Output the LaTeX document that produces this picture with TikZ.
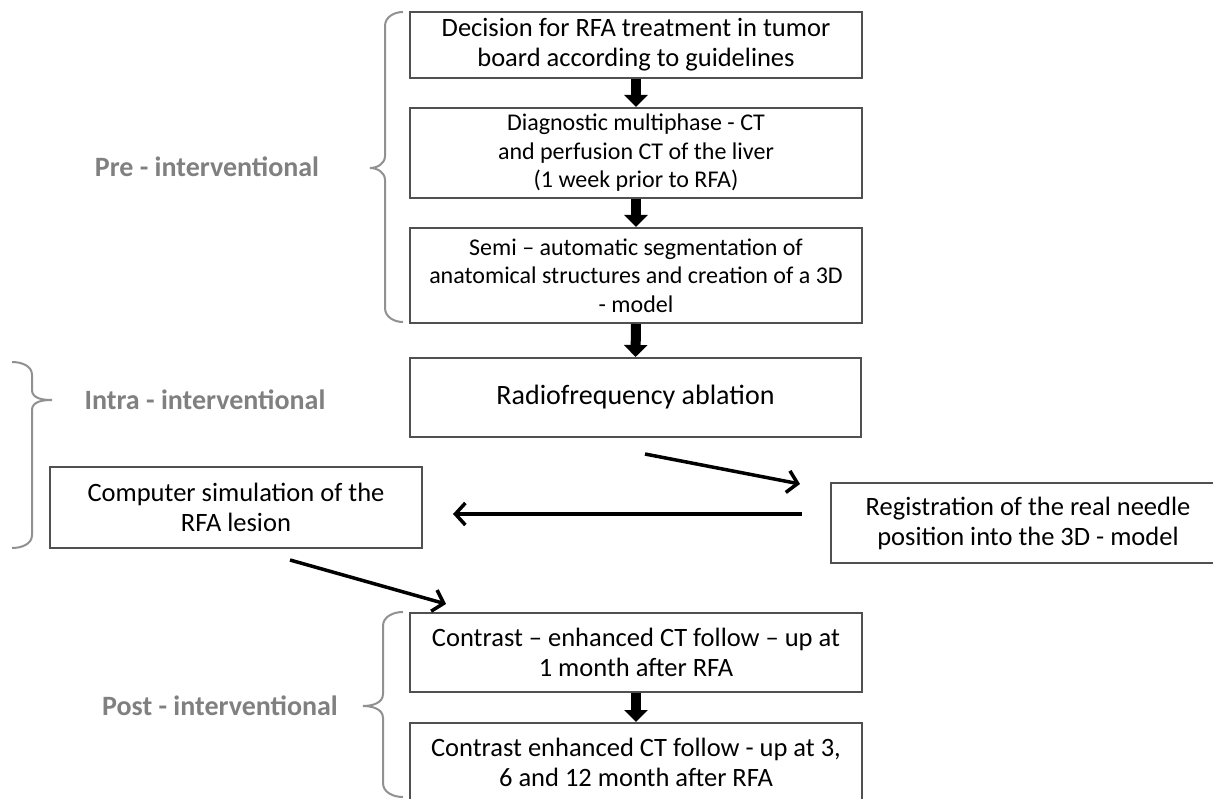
\documentclass[tikz,border=0pt]{standalone}
\usepackage{fontspec}
\setmainfont{Carlito}
\usetikzlibrary{positioning,arrows.meta}

\definecolor{boxline}{RGB}{80,80,80}
\definecolor{phasegray}{RGB}{128,128,128}
\definecolor{bracegray}{RGB}{145,145,145}

\begin{document}
\begin{tikzpicture}[x=1pt, y=-1pt,
  box/.style={rectangle, draw=boxline, line width=2pt, fill=white, align=center, inner sep=0pt, anchor=center, font=\fontsize{26.5}{30}\selectfont},
  smallbox/.style={box, font=\fontsize{24}{28.5}\selectfont},
  phase/.style={font=\bfseries\fontsize{28}{32}\selectfont, text=phasegray, anchor=center},
  brc/.style={draw=bracegray, line width=2pt},
  bigarrow/.style={line width=10pt, -{Triangle[width=23pt, length=12pt]}},
  thinarrow/.style={line width=3.5pt, -{Straight Barb[length=10pt, width=22pt]}}
]
\clip (0,0) rectangle (1213,799);
% Pre-interventional column
\node[box, minimum width=452pt, minimum height=66pt] (decide) at (636,45) {Decision for RFA treatment in tumor\\board according to guidelines};
\node[smallbox, minimum width=452pt, minimum height=90pt] (diag) at (636,153) {Diagnostic multiphase - CT\\and perfusion CT of the liver\\(1 week prior to RFA)};
\node[smallbox, minimum width=452pt, minimum height=95pt] (segm) at (636,275.5) {Semi -- automatic segmentation of\\anatomical structures and creation of a 3D\\- model};
% Intra-interventional
\node[box, font=\fontsize{28}{30}\selectfont, minimum width=451pt, minimum height=79pt] (rfa) at (635.5,397.5) {Radiofrequency ablation};
\node[box, minimum width=372pt, minimum height=81pt] (sim) at (236,507.5) {Computer simulation of the\\RFA lesion};
\node[box, minimum width=394pt, minimum height=80pt] (regis) at (1028,523) {Registration of the real needle\\position into the 3D - model};
% Post-interventional
\node[box, minimum width=452pt, minimum height=79pt] (ctone) at (636,652.5) {Contrast -- enhanced CT follow -- up at\\1 month after RFA};
\node[box, minimum width=452pt, minimum height=78pt] (ctlate) at (636,762) {Contrast enhanced CT follow - up at 3,\\6 and 12 month after RFA};
% Phase labels
\node[phase] (pre) at (207,167) {Pre - interventional};
\node[phase] (intra) at (205,400) {Intra - interventional};
\node[phase] (post) at (220,706) {Post - interventional};
% Braces
\draw[brc] (403,12) to[out=180,in=90] (385,26) -- (385,156) to[out=-90,in=0] (370,168)
  to[out=0,in=90] (385,180) -- (385,308) to[out=-90,in=180] (403,322);
\draw[brc] (12,362) to[out=0,in=90] (32,375) -- (32,390) to[out=-90,in=180] (52,400)
  to[out=180,in=90] (32,410) -- (32,535) to[out=-90,in=0] (12,548);
\draw[brc] (403,612) to[out=180,in=90] (383,626) -- (383,694) to[out=-90,in=0] (363,706)
  to[out=0,in=90] (383,718) -- (383,783) to[out=-90,in=180] (403,797);
% Thick arrows
\draw[bigarrow] (decide.south) -- (diag.north);
\draw[bigarrow] (diag.south) -- (segm.north);
\draw[bigarrow] (segm.south) -- (rfa.south |- rfa.north);
\draw[bigarrow] (ctone.south) -- (ctlate.north);
% Thin arrows
\coordinate (rfaout) at (645,454);
\coordinate (regin) at (800,484);
\coordinate (regout) at (802,514);
\coordinate (simin) at (453,514);
\coordinate (simout) at (290,560);
\coordinate (ctin) at (446,604);
\draw[thinarrow] (rfaout) -- (regin);
\draw[thinarrow] (regout) -- (simin);
\draw[thinarrow] (simout) -- (ctin);
\end{tikzpicture}
\end{document}
